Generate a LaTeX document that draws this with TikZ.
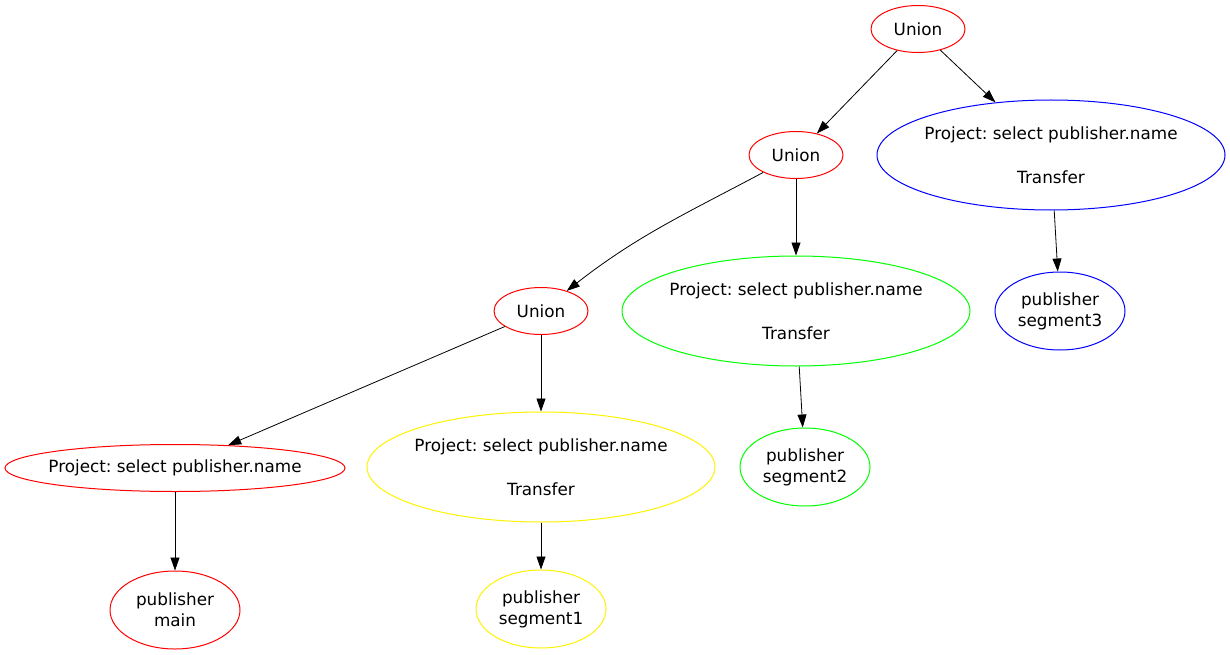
\documentclass[tikz,border=0pt]{standalone}
\usepackage{fontspec}
\setmainfont{DejaVu Sans}
\usetikzlibrary{shapes.geometric,arrows.meta}
\frenchspacing

\begin{document}
\begin{tikzpicture}[x=1pt, y=-1pt, node distance = 156pt,
    ell/.style={draw, ellipse, line width=1pt, inner sep=0pt, text=black, align=center,
                font=\fontsize{16.8}{21}\selectfont},
    union/.style={ell, minimum width=94pt, minimum height=47pt},
    project/.style={ell, inner xsep=-9pt, minimum width=348pt, minimum height=110pt},
    leaf/.style={ell, minimum width=130pt, minimum height=78pt},
    >={Triangle[length=13pt,width=9pt]}]
        \useasboundingbox (0,0) rectangle (1230,655);
        \node[union, draw=red](u0) at (918,29)  {Union};
        \node[union, draw=red](u1) at (796,155) {Union};
        \node[union, draw=red](u2) at (541,311) {Union};
        \node[project, draw=blue](p3)   at (1051,155) {Project: select publisher.name\\[23pt]Transfer};
        \node[project, draw=green](p2)  [below of = u1] {Project: select publisher.name\\[23pt]Transfer};
        \node[project, draw=yellow](p1) [below of = u2] {Project: select publisher.name\\[23pt]Transfer};
        \node[project, draw=red, minimum width=340pt, minimum height=47pt](p0) at (175,468) {Project: select publisher.name};
        \node[leaf, draw=blue](s3)   [below of = p3, xshift=9pt] {publisher\\segment3};
        \node[leaf, draw=green](s2)  [below of = p2, xshift=9pt] {publisher\\segment2};
        \node[leaf, draw=yellow](s1) [below of = p1, node distance = 142pt] {publisher\\segment1};
        \node[leaf, draw=red](m0)    [below of = p0, node distance = 142pt] {publisher\\main};
        \path[->, line width=0.8pt]
          (u0) edge (u1)
          (u0) edge (p3)
          (u1) edge[out=208, in=38] (u2)
          (u1) edge (p2)
          (u2) edge (p0)
          (u2) edge (p1)
          (p3) edge (s3)
          (p2) edge (s2)
          (p1) edge (s1)
          (p0) edge (m0)
          ;
      \end{tikzpicture}
\end{document}
